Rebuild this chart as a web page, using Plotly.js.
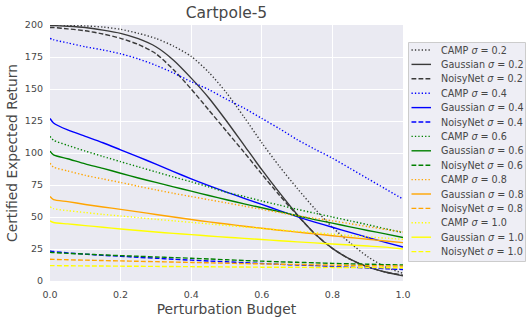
<!DOCTYPE html>
<html>
<head>
<meta charset="utf-8">
<script src="https://cdn.plot.ly/plotly-3.0.1.min.js"></script>
<style>html,body{margin:0;padding:0;background:#fff;}#chart{width:531px;height:322px;}</style>
</head>
<body>
<div id="chart"></div>
<script>
// ---- data ----
const budget = [0, 0.01, 0.05, 0.1, 0.15, 0.2, 0.25, 0.3, 0.35, 0.4, 0.45, 0.5, 0.55, 0.6, 0.65, 0.7, 0.75, 0.8, 0.85, 0.9, 0.95, 1.0];

const camp02  = [200, 200, 199.8, 199.3, 198.4, 196.6, 193.5, 189.5, 183.5, 175.5, 163, 147, 128, 108, 89.5, 72.5, 56.5, 42, 29.8, 19, 11, 6];
const gauss02 = [199.5, 199.5, 199, 198, 196, 193.5, 189.3, 183, 172.5, 158.5, 143, 125, 106, 87, 69, 52, 37, 25.5, 17, 11, 7, 4];
const noisy02 = [198, 198, 197, 195.5, 193, 189.6, 184.8, 177.6, 165, 150, 133.5, 117, 100.5, 83.5, 67, 51.5, 37, 25.5, 17, 11, 7, 4.5];

const camp04  = [189.5, 188.5, 186, 183, 180.5, 177.5, 173.5, 168.5, 162.5, 155.7, 149.5, 142, 135, 127, 119, 110.5, 103, 96, 88, 80, 72, 64];
const gauss04 = [127, 123.5, 118, 113, 108, 102.5, 97, 91.3, 85.5, 79.8, 74.5, 69.5, 64.6, 59.8, 55, 50.3, 46, 42, 38, 34, 30.2, 26.5];
const noisy04 = [23.5, 23, 22, 21, 20, 19.3, 18.5, 17.8, 17, 16.3, 15.6, 15, 14.3, 13.7, 13, 12.5, 12, 11.4, 10.8, 10.2, 9.6, 9];

const camp06  = [113, 110, 106, 101.5, 97.3, 93.2, 89.2, 85.2, 81.3, 77.5, 73.5, 69.3, 66, 62.5, 59.3, 56, 53, 50, 47, 44, 40.8, 37.8];
const gauss06 = [101.5, 98.5, 95.5, 91.5, 88, 84.2, 80.5, 77, 73.5, 70.2, 66.8, 63.5, 60.3, 57.2, 54.2, 51, 48, 45.2, 42.3, 39.5, 36.8, 34];
const noisy06 = [22.5, 22.2, 21.6, 21, 20.4, 19.8, 19.3, 18.8, 18.3, 17.8, 17.2, 16.6, 16, 15.5, 15, 14.6, 14.2, 13.8, 13.4, 13.1, 12.8, 12.5];

const camp08  = [92, 89, 86, 82.5, 79.7, 77, 74, 71.2, 68.5, 66, 63.5, 61, 58.5, 56, 53.5, 51, 49, 47, 44.8, 42.5, 40.3, 38.3];
const gauss08 = [66, 63.5, 62, 59.8, 57.8, 56, 54, 52, 50, 48, 46.2, 44.5, 42.8, 41.2, 39.7, 38.2, 36.8, 35.4, 34, 32.6, 31.3, 30];
const noisy08 = [17, 16.9, 16.6, 16.3, 16, 15.7, 15.4, 15.1, 14.8, 14.5, 14.2, 13.9, 13.6, 13.4, 13.1, 12.9, 12.6, 12.4, 12.2, 12, 11.8, 11.6];

const camp10  = [58, 56.5, 55, 53.5, 52, 50.8, 49.5, 48.2, 47, 45.8, 44.6, 43.4, 42.2, 41, 39.9, 38.8, 37.7, 36.6, 35.5, 34.5, 33.5, 32.5];
const gauss10 = [47, 45.7, 44.6, 43.3, 42, 40.6, 39.4, 38.3, 37.2, 36.2, 35.2, 34.2, 33.3, 32.4, 31.5, 30.6, 29.8, 28.9, 28.1, 27.3, 26.5, 25];
const noisy10 = [12, 12, 11.9, 11.8, 11.7, 11.6, 11.5, 11.4, 11.3, 11.2, 11.1, 11, 10.9, 10.8, 10.8, 10.7, 10.6, 10.6, 10.5, 10.5, 10.4, 10.4];

const methods = ['CAMP', 'Gaussian', 'NoisyNet'];
const sigmas = ['0.2', '0.4', '0.6', '0.8', '1.0'];
const seriesValues = [
  [camp02, gauss02, noisy02],
  [camp04, gauss04, noisy04],
  [camp06, gauss06, noisy06],
  [camp08, gauss08, noisy08],
  [camp10, gauss10, noisy10]
];
const xTickLabels = ['0.0', '0.2', '0.4', '0.6', '0.8', '1.0'];
const yTickLabels = ['0', '25', '50', '75', '100', '125', '150', '175', '200'];

// ---- styles ----
const sigmaColors = ['#3a3a3a', '#0000ff', '#008000', '#ffa500', '#ffff00'];
const methodDash = ['1.3px,2.1px', 'solid', '4.8px,2.2px'];
const LW = 1.4;
const TXT = '#474747';
const FONT = 'DejaVu Sans, Verdana, sans-serif';

const traces = [];
const shapes = [];
const annotations = [];

// legend geometry (paper coordinates; plot area is 353 x 256 px)
const PW = 353, PH = 256;
const px2x = p => (p - 50) / PW;
const py2y = p => (281 - p) / PH;

shapes.push({
  type: 'rect', xref: 'paper', yref: 'paper',
  x0: px2x(408.5), x1: px2x(525.5), y0: py2y(261.5), y1: py2y(42.5),
  fillcolor: '#eeeef5', line: {color: '#cccccc', width: 1}, layer: 'above'
});

let row = 0;
sigmas.forEach((s, si) => {
  methods.forEach((m, mi) => {
    const name = m + ' <i>σ</i> = ' + s;
    traces.push({
      x: budget, y: seriesValues[si][mi], type: 'scatter', mode: 'lines',
      name: name, showlegend: false, hoverinfo: 'skip',
      line: {color: sigmaColors[si], width: LW, dash: methodDash[mi], shape: 'spline', smoothing: 0.7}
    });
    const cy = py2y(50 + row * 14.4);
    shapes.push({
      type: 'line', xref: 'paper', yref: 'paper',
      x0: px2x(411.5), x1: px2x(431), y0: cy, y1: cy,
      line: {color: sigmaColors[si], width: LW, dash: methodDash[mi]}, layer: 'above'
    });
    annotations.push({
      xref: 'paper', yref: 'paper', x: px2x(438.5), y: cy,
      xanchor: 'left', yanchor: 'middle', showarrow: false, text: name,
      font: {family: FONT, size: 9.6, color: TXT}
    });
    row++;
  });
});

const layout = {
  width: 531, height: 322,
  margin: {l: 50, r: 128, t: 25, b: 41, pad: 0},
  paper_bgcolor: '#ffffff', plot_bgcolor: '#eaeaf2',
  font: {family: FONT, color: TXT},
  showlegend: false,
  title: {text: 'Cartpole-5', font: {family: FONT, size: 15.5, color: TXT},
          x: 226.5 / 531, xref: 'container', xanchor: 'center',
          y: 1 - 12.5 / 322, yref: 'container', yanchor: 'middle'},
  xaxis: {
    range: [0, 1], tickvals: [0, 0.2, 0.4, 0.6, 0.8, 1.0], ticktext: xTickLabels,
    showgrid: true, gridcolor: '#ffffff', gridwidth: 1, zeroline: false, showline: false,
    ticks: '', tickfont: {family: FONT, size: 9.5, color: TXT}, ticklabelstandoff: 6,
    title: {text: 'Perturbation Budget', font: {family: FONT, size: 13.8, color: TXT}, standoff: 5},
    fixedrange: true
  },
  yaxis: {
    range: [0, 200], tickvals: [0, 25, 50, 75, 100, 125, 150, 175, 200], ticktext: yTickLabels,
    showgrid: true, gridcolor: '#ffffff', gridwidth: 1, zeroline: false, showline: false,
    ticks: '', tickfont: {family: FONT, size: 9.5, color: TXT}, ticklabelstandoff: 6,
    title: {text: 'Certified Expected Return', font: {family: FONT, size: 13.8, color: TXT}, standoff: 4},
    fixedrange: true
  },
  shapes: shapes,
  annotations: annotations
};

Plotly.newPlot('chart', traces, layout, {displayModeBar: false, staticPlot: true});
</script>
</body>
</html>
